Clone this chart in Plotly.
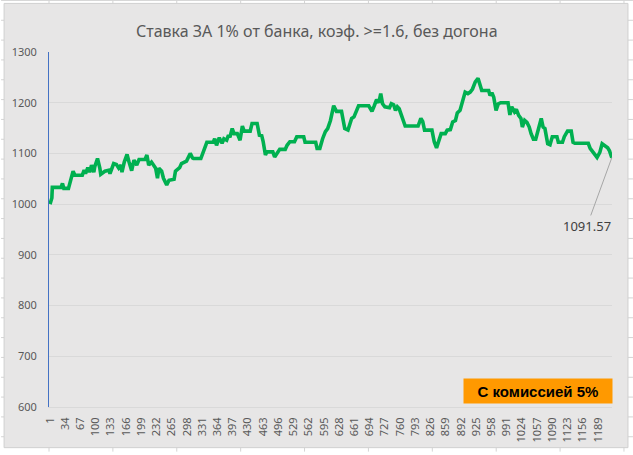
import plotly.graph_objects as go

# ---------------- data ----------------
steps = [
    1, 5, 6, 25, 28, 31, 41, 51, 55, 71,
    75, 78, 83, 87, 91, 96, 98, 104, 109, 111,
    120, 129, 131, 139, 145, 150, 155, 157, 162, 168,
    172, 178, 183, 189, 194, 207, 211, 215, 221, 225,
    230, 234, 237, 243, 247, 254, 259, 270, 273, 282,
    286, 297, 300, 305, 310, 312, 328, 334, 341, 355,
    358, 362, 368, 374, 378, 384, 388, 391, 396, 400,
    407, 413, 418, 422, 435, 439, 450, 455, 460, 463,
    468, 471, 484, 488, 492, 499, 511, 515, 521, 531,
    536, 551, 554, 577, 580, 586, 592, 598, 603, 609,
    616, 619, 622, 633, 640, 647, 655, 660, 665, 670,
    692, 699, 704, 709, 714, 718, 722, 727, 737, 741,
    746, 750, 754, 758, 763, 769, 771, 799, 805, 809,
    813, 829, 834, 839, 845, 849, 858, 862, 869, 874,
    880, 884, 890, 895, 901, 907, 912, 917, 923, 929,
    933, 937, 952, 955, 959, 963, 968, 973, 978, 994,
    998, 1002, 1008, 1012, 1017, 1022, 1025, 1030, 1035, 1040,
    1044, 1049, 1054, 1060, 1066, 1070, 1074, 1080, 1085, 1090,
    1100, 1103, 1112, 1116, 1123, 1131, 1135, 1139, 1168, 1172,
    1177, 1182, 1187, 1193, 1198, 1204, 1210, 1214, 1219,
]
bank = [
    1000, 1012, 1033, 1033, 1041, 1031, 1031, 1065, 1057, 1057,
    1067, 1060, 1072, 1063, 1077, 1063, 1074, 1090, 1071, 1059,
    1065, 1067, 1060, 1080, 1078, 1071, 1077, 1063, 1083, 1098,
    1084, 1066, 1087, 1077, 1088, 1088, 1097, 1077, 1083, 1077,
    1071, 1051, 1071, 1065, 1051, 1038, 1047, 1049, 1065, 1072,
    1080, 1085, 1091, 1100, 1091, 1090, 1090, 1104, 1122, 1122,
    1129, 1116, 1131, 1120, 1129, 1126, 1136, 1132, 1149, 1139,
    1139, 1126, 1154, 1144, 1144, 1159, 1159, 1136, 1135, 1124,
    1097, 1103, 1103, 1093, 1099, 1108, 1108, 1116, 1123, 1123,
    1133, 1133, 1122, 1122, 1110, 1110, 1129, 1143, 1149, 1165,
    1194, 1190, 1183, 1183, 1149, 1146, 1169, 1172, 1185, 1194,
    1194, 1183, 1194, 1206, 1200, 1218, 1198, 1192, 1190, 1198,
    1196, 1185, 1192, 1188, 1175, 1157, 1154, 1154, 1169, 1163,
    1146, 1146, 1123, 1111, 1126, 1139, 1139, 1146, 1147, 1162,
    1165, 1180, 1185, 1204, 1221, 1218, 1221, 1227, 1241, 1248,
    1237, 1224, 1224, 1214, 1220, 1211, 1185, 1198, 1200, 1200,
    1176, 1192, 1182, 1187, 1175, 1169, 1152, 1165, 1161, 1152,
    1139, 1128, 1128, 1149, 1169, 1152, 1149, 1119, 1117, 1133,
    1133, 1122, 1122, 1133, 1144, 1144, 1122, 1120, 1120, 1110,
    1105, 1098, 1092, 1102, 1119, 1115, 1111, 1105, 1091.57,
]
x_ticks = [1, 34, 67, 100, 133, 166, 199, 232, 265, 298, 331, 364, 397,
           430, 463, 496, 529, 562, 595, 628, 661, 694, 727, 760, 793, 826,
           859, 892, 925, 958, 991, 1024, 1057, 1090, 1123, 1156, 1189]
y_ticks = [600, 700, 800, 900, 1000, 1100, 1200, 1300]

title_text = "Ставка ЗА 1% от банка, коэф. >=1.6, без догона"
badge_text = "С комиссией 5%"

# ---------------- layout geometry (pixels) ----------------
W, H = 633, 455
PL, PR, PT, PB = 48, 612, 52, 410  # plot area in pixels


def px_x(px):
    return (px - PL) / (PR - PL)


def px_y(py):
    return (PB - py) / (PB - PT)


BG = "#E7E6E6"
GRID = "#D9D9D9"
TXT = "#595959"
FONT = "Noto Sans"

fig = go.Figure()
fig.add_trace(go.Scatter(
    x=steps, y=bank, mode="lines",
    line=dict(color="#00B050", width=3.6),
    hoverinfo="skip", showlegend=False,
))

shapes = []
# spreadsheet cells behind the chart
for cx in range(48, W + 1, 64):
    shapes.append(dict(type="line", xref="paper", yref="paper",
                       x0=px_x(cx), x1=px_x(cx), y0=px_y(0), y1=px_y(H),
                       line=dict(color="#D4D4D4", width=1), layer="below"))
for cy in range(0, H + 1, 20):
    shapes.append(dict(type="line", xref="paper", yref="paper",
                       x0=px_x(0), x1=px_x(W), y0=px_y(cy), y1=px_y(cy),
                       line=dict(color="#D4D4D4", width=1), layer="below"))
# chart area
shapes.append(dict(type="rect", xref="paper", yref="paper",
                   x0=px_x(3), x1=px_x(628), y0=px_y(451), y1=px_y(3),
                   fillcolor=BG, line=dict(color="#D0D0D0", width=1),
                   layer="below"))

annotations = [
    dict(text=title_text, xref="paper", yref="paper",
         x=px_x(316), y=px_y(31), xanchor="center", yanchor="middle",
         showarrow=False, font=dict(family=FONT, size=16, color=TXT)),
    dict(text=f"{bank[-1]:.2f}", x=steps[-1], y=bank[-1], xref="x", yref="y",
         ax=1165, ay=957, axref="x", ayref="y",
         showarrow=True, arrowhead=0, arrowwidth=1, arrowcolor="#A6A6A6",
         standoff=0, startstandoff=0,
         font=dict(family=FONT, size=13, color="#404040")),
    dict(text=f"<b>{badge_text}</b>", xref="paper", yref="paper",
         x=px_x(538), y=px_y(394), xanchor="center", yanchor="middle",
         showarrow=False, bgcolor="#FF9900", width=148, height=24,
         borderpad=0, font=dict(family="Liberation Sans", size=15,
                                color="#000000")),
]

fig.update_layout(
    width=W, height=H,
    margin=dict(l=PL, r=W - PR, t=PT, b=H - PB, pad=0),
    paper_bgcolor="#FFFFFF", plot_bgcolor=BG,
    shapes=shapes, annotations=annotations,
    xaxis=dict(range=[-1.2, 1219.4], tickmode="array", tickvals=x_ticks,
               ticktext=[str(t) for t in x_ticks], tickangle=-90,
               showgrid=False, zeroline=False, showline=True,
               linecolor=GRID, linewidth=1, ticks="",
               ticklabelstandoff=5,
               tickfont=dict(family=FONT, size=11, color=TXT)),
    yaxis=dict(range=[600, 1300], tickmode="array", tickvals=y_ticks,
               showgrid=True, gridcolor=GRID, gridwidth=1, zeroline=False,
               showline=True, linecolor="#4472C4", linewidth=1, ticks="",
               ticklabelstandoff=9,
               tickfont=dict(family=FONT, size=11, color=TXT)),
)

fig.write_html("out.html")
